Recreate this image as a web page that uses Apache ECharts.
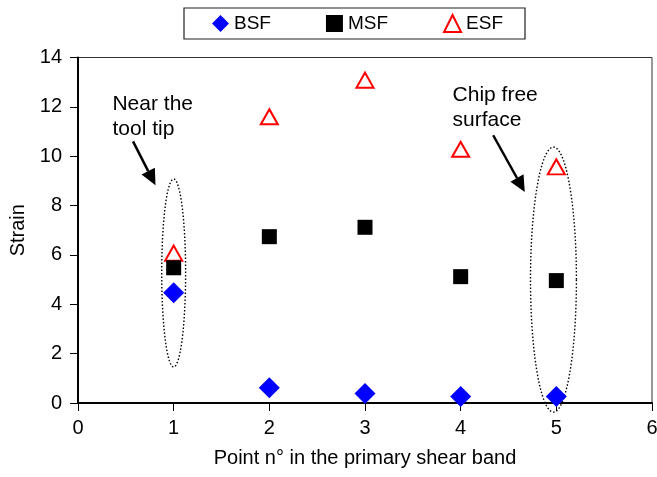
<!DOCTYPE html>
<html>
<head>
<meta charset="utf-8">
<script src="https://cdn.jsdelivr.net/npm/echarts@6/dist/echarts.min.js"></script>
<style>
html,body{margin:0;padding:0;background:#fff;}
#c{width:657px;height:477px;}
</style>
</head>
<body>
<div id="c"></div>
<script>
// ---- data ----
const xPoints = [1, 2, 3, 4, 5];
const bsf = [4.47, 0.62, 0.39, 0.26, 0.26];
const msf = [5.48, 6.74, 7.12, 5.12, 4.96];
const esf = [6.07, 11.6, 13.08, 10.28, 9.57];
const seriesNames = ['BSF', 'MSF', 'ESF'];
const xTicks = [0, 1, 2, 3, 4, 5, 6];
const yTicks = [0, 2, 4, 6, 8, 10, 12, 14];
// annotations (data coordinates)
const ellipses = [[1, 5.27, 0.125, 3.81], [4.97, 5.0, 0.24, 5.37]]; // cx, cy, rx, ry
const arrows = [[0.575, 10.6, 0.81, 8.82], [4.34, 10.85, 4.67, 8.55]]; // x1,y1,x2,y2
const notes = [[0.36, 12.6, 'Near the\ntool tip'], [3.915, 12.98, 'Chip free\nsurface']];

const FONT = 'Liberation Sans, Arial, sans-serif';
const chart = echarts.init(document.getElementById('c'), null, {renderer: 'canvas'});

function pairs(vals) { return xPoints.map((x, i) => [x, vals[i]]); }

const annotationData = [];
ellipses.forEach(e => annotationData.push(['ellipse'].concat(e)));
arrows.forEach(a => annotationData.push(['arrow'].concat(a)));
notes.forEach(n => annotationData.push(['note'].concat(n)));

function renderAnno(params, api) {
  const d = annotationData[params.dataIndex];
  if (d[0] === 'ellipse') {
    const pts = [];
    for (let k = 0; k <= 120; k++) {
      const t = k / 120 * Math.PI * 2;
      pts.push(api.coord([d[1] + d[3] * Math.cos(t), d[2] + d[4] * Math.sin(t)]));
    }
    return {type: 'polyline', shape: {points: pts}, silent: true,
      style: {stroke: '#000', lineWidth: 1.4, lineDash: [1.5, 2], fill: null}};
  }
  if (d[0] === 'arrow') {
    const p1 = api.coord([d[1], d[2]]);
    const p2 = api.coord([d[3], d[4]]);
    const ang = Math.atan2(p2[1] - p1[1], p2[0] - p1[0]);
    const L = 16, W = 7.5;
    const bx = p2[0] - L * Math.cos(ang), by = p2[1] - L * Math.sin(ang);
    const nx = -Math.sin(ang), ny = Math.cos(ang);
    return {type: 'group', silent: true, children: [
      {type: 'line', shape: {x1: p1[0], y1: p1[1], x2: bx, y2: by},
        style: {stroke: '#000', lineWidth: 2.5}},
      {type: 'polygon', shape: {points: [p2, [bx + nx * W, by + ny * W], [bx - nx * W, by - ny * W]]},
        style: {fill: '#000'}}
    ]};
  }
  const p = api.coord([d[1], d[2]]);
  return {type: 'text', silent: true, x: p[0], y: p[1],
    style: {text: d[3], fill: '#000', font: '21px ' + FONT, lineHeight: 25,
      textAlign: 'left', textVerticalAlign: 'top'}};
}

const option = {
  animation: false,
  backgroundColor: '#fff',
  textStyle: {fontFamily: FONT},
  legend: {
    data: seriesNames,
    left: 184, top: 8,
    padding: [6, 22, 6, 28],
    itemGap: 55,
    itemWidth: 17, itemHeight: 17,
    borderColor: '#222', borderWidth: 1.2,
    textStyle: {fontSize: 19, color: '#000', fontFamily: FONT}
  },
  grid: {left: 78, right: 5, top: 57.5, bottom: 74, containLabel: false,
    outerBoundsMode: 'none',
    show: true, borderColor: '#333', borderWidth: 1},
  xAxis: {
    type: 'value', min: xTicks[0], max: xTicks[xTicks.length - 1], interval: 1,
    name: 'Point n° in the primary shear band', nameLocation: 'middle', nameGap: 45,
    nameTextStyle: {fontSize: 20, color: '#000', fontFamily: FONT},
    axisLine: {onZero: false, lineStyle: {color: '#000', width: 2}},
    axisTick: {show: true, inside: false, length: 8, lineStyle: {color: '#000', width: 1}},
    axisLabel: {fontSize: 20, color: '#000', margin: 15, fontFamily: FONT},
    splitLine: {show: false}
  },
  yAxis: {
    type: 'value', min: yTicks[0], max: yTicks[yTicks.length - 1], interval: 2,
    name: 'Strain', nameLocation: 'middle', nameGap: 50, nameRotate: 90,
    nameTextStyle: {fontSize: 20, color: '#000', fontFamily: FONT},
    axisLine: {show: true, lineStyle: {color: '#000', width: 2}},
    axisTick: {show: true, inside: false, length: 8, lineStyle: {color: '#000', width: 1}},
    axisLabel: {fontSize: 20, color: '#000', margin: 16, fontFamily: FONT},
    splitLine: {show: false}
  },
  series: [
    {name: 'BSF', type: 'scatter', data: pairs(bsf), symbol: 'diamond', symbolSize: 21,
      itemStyle: {color: '#0000ff', opacity: 1}, z: 5},
    {name: 'MSF', type: 'scatter', data: pairs(msf), symbol: 'rect', symbolSize: 15,
      itemStyle: {color: '#000', opacity: 1}, z: 5},
    {name: 'ESF', type: 'scatter', data: pairs(esf), symbol: 'triangle', symbolSize: [17, 15],
      itemStyle: {color: '#fff', borderColor: '#ff0000', borderWidth: 2, opacity: 1}, z: 4},
    {name: 'anno', type: 'custom', data: annotationData.map((d, i) => [i]),
      renderItem: renderAnno, silent: true, z: 3, clip: false}
  ]
};
chart.setOption(option);
</script>
</body>
</html>
